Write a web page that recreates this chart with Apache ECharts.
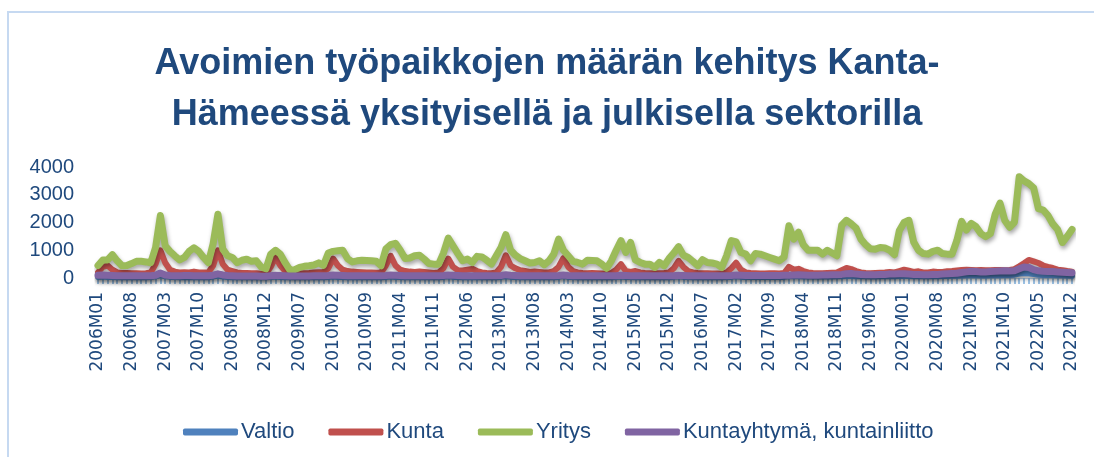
<!DOCTYPE html>
<html>
<head>
<meta charset="utf-8">
<script src="https://cdn.jsdelivr.net/npm/echarts@6/dist/echarts.min.js"></script>
<style>
  html, body { margin: 0; padding: 0; background: #fff; }
  #chart { width: 1094px; height: 457px; }
</style>
</head>
<body>
<div id="chart"></div>
<script>
// kuukaudet 2006M01 - 2022M12
const years = [2006, 2007, 2008, 2009, 2010, 2011, 2012, 2013, 2014, 2015, 2016, 2017, 2018, 2019, 2020, 2021, 2022];
const months = ["01", "02", "03", "04", "05", "06", "07", "08", "09", "10", "11", "12"];

const valtio = [
  40, 50, 40, 35, 30, 30, 30, 30, 30, 30, 30, 35,
  60, 110, 60, 40, 35, 30, 30, 30, 30, 30, 30, 30,
  50, 90, 50, 35, 30, 30, 30, 30, 30, 30, 25, 25,
  35, 50, 40, 30, 30, 30, 30, 30, 30, 30, 30, 30,
  40, 50, 40, 35, 30, 30, 30, 30, 30, 30, 30, 30,
  40, 50, 40, 35, 30, 30, 30, 30, 30, 30, 30, 30,
  40, 60, 40, 35, 30, 30, 30, 30, 30, 30, 30, 30,
  40, 60, 40, 35, 30, 30, 30, 30, 30, 30, 30, 30,
  40, 70, 40, 35, 30, 30, 30, 30, 30, 30, 30, 30,
  40, 50, 40, 35, 30, 30, 30, 30, 30, 30, 30, 30,
  40, 60, 40, 35, 30, 30, 30, 30, 30, 30, 30, 35,
  40, 60, 40, 35, 35, 35, 35, 35, 35, 35, 35, 40,
  60, 70, 60, 55, 50, 50, 50, 50, 55, 55, 60, 60,
  70, 70, 65, 60, 60, 55, 55, 60, 60, 65, 65, 70,
  70, 70, 65, 60, 60, 60, 60, 65, 70, 75, 80, 85,
  90, 100, 100, 95, 90, 90, 95, 100, 100, 105, 110, 120,
  160, 180, 170, 140, 120, 110, 110, 105, 100, 95, 90, 80
];

const kunta = [
  200, 400, 450, 300, 200, 180, 180, 170, 170, 160, 170, 200,
  500, 1000, 550, 300, 230, 200, 210, 200, 230, 200, 200, 200,
  450, 1000, 500, 300, 250, 200, 180, 180, 170, 170, 150, 150,
  400, 750, 450, 250, 200, 170, 160, 170, 180, 200, 210, 220,
  350, 700, 450, 300, 250, 230, 220, 210, 200, 200, 190, 200,
  450, 800, 450, 300, 250, 230, 220, 230, 220, 200, 180, 200,
  350, 700, 400, 280, 270, 300, 330, 250, 200, 180, 170, 200,
  400, 820, 450, 350, 280, 250, 220, 230, 220, 200, 200, 250,
  400, 720, 400, 250, 200, 180, 170, 180, 170, 160, 150, 180,
  300, 500, 250, 220, 250, 200, 180, 170, 160, 170, 180, 200,
  350, 620, 400, 250, 200, 180, 170, 170, 160, 160, 150, 200,
  350, 550, 300, 200, 180, 170, 160, 160, 170, 170, 160, 180,
  400, 300, 330, 250, 200, 180, 170, 170, 180, 190, 200, 280,
  360, 320, 250, 200, 180, 170, 180, 190, 200, 220, 200, 250,
  300, 260, 220, 240, 200, 200, 230, 220, 220, 240, 250, 270,
  290, 300, 290, 280, 290, 280, 280, 290, 290, 280, 290, 320,
  420, 530, 650, 600, 540, 450, 400, 360, 300, 280, 250, 230
];

const yritys = [
  450, 650, 650, 840, 620, 440, 450, 520, 600, 600, 580, 550,
  1100, 2250, 1160, 960, 800, 650, 740, 960, 1090, 960, 740, 550,
  1240, 2300, 1040, 800, 740, 550, 640, 680, 600, 620, 400, 330,
  860, 1000, 860, 550, 280, 300, 380, 420, 440, 470, 545, 460,
  900, 960, 980, 1000, 700, 580, 620, 640, 630, 620, 600, 440,
  1050, 1200, 1250, 1000, 700, 720, 800, 820, 680, 520, 500, 500,
  900, 1440, 1160, 880, 620, 680, 560, 780, 760, 640, 500, 800,
  1100, 1560, 1000, 820, 700, 620, 540, 560, 620, 480, 620, 860,
  1400, 1000, 800, 600, 560, 500, 640, 630, 620, 500, 350, 620,
  1000, 1350, 920, 1280, 650, 560, 500, 500, 380, 560, 440, 700,
  900, 1130, 820, 740, 600, 440, 660, 560, 540, 500, 380, 800,
  1350, 1300, 920, 860, 620, 880, 860, 800, 740, 680, 620, 760,
  1880, 1400, 1650, 1200, 1000, 1000, 1000, 860, 1000, 900, 800, 1900,
  2080, 1950, 1800, 1400, 1200, 1050, 1040, 1100, 1080, 1000, 840, 1700,
  2000, 2080, 1300, 1000, 880, 860, 960, 1000, 880, 860, 860, 1350,
  2040, 1730, 1970, 1850, 1600, 1490, 1600, 2300, 2700, 2070, 1830, 2010,
  3650, 3500, 3400, 3250, 2500, 2450, 2250, 1950, 1750, 1280, 1500, 1750
];

const kuntayhtyma = [
  100, 110, 100, 90, 80, 80, 80, 80, 80, 80, 80, 80,
  100, 180, 110, 90, 80, 80, 90, 90, 80, 80, 80, 80,
  100, 150, 110, 90, 80, 70, 70, 70, 70, 70, 60, 60,
  80, 100, 90, 80, 70, 70, 70, 70, 70, 80, 80, 80,
  90, 110, 100, 90, 80, 80, 80, 80, 80, 80, 80, 80,
  90, 110, 100, 90, 80, 80, 80, 80, 80, 80, 80, 80,
  90, 110, 100, 90, 80, 80, 80, 80, 80, 80, 80, 80,
  90, 120, 100, 90, 80, 80, 80, 80, 80, 80, 80, 80,
  90, 110, 90, 80, 80, 80, 80, 80, 80, 80, 80, 80,
  80, 100, 90, 80, 80, 80, 80, 80, 80, 80, 80, 80,
  80, 100, 90, 80, 80, 80, 80, 80, 80, 80, 80, 80,
  90, 110, 100, 90, 90, 90, 90, 90, 90, 90, 90, 100,
  100, 110, 120, 110, 100, 100, 100, 110, 110, 120, 120, 130,
  150, 160, 140, 130, 120, 120, 120, 130, 130, 140, 140, 150,
  150, 140, 130, 130, 120, 120, 130, 130, 140, 150, 160, 170,
  200, 220, 240, 230, 220, 220, 230, 240, 250, 260, 250, 260,
  330, 400, 380, 300, 260, 240, 230, 230, 220, 210, 200, 190
];

const yTicks = [0, 1000, 2000, 3000, 4000];

let categories = [];
years.forEach((y) => {
  months.forEach((m) => {
    categories.push(y + "M" + m);
  });
});

const textColor = "#1f497d";
const shadow = {
  shadowColor: "rgba(0,0,0,0.35)",
  shadowBlur: 4,
  shadowOffsetX: 1,
  shadowOffsetY: 3,
};

function makeSeries(name, data, color, width) {
  return {
    name: name,
    type: "line",
    data: data,
    symbol: "none",
    smooth: false,
    clip: false,
    color: color,
    lineStyle: Object.assign({ width: width, color: color, join: "round", cap: "round" }, shadow),
  };
}

let myChart = echarts.init(document.getElementById("chart"));
let option = {
  animation: false,
  backgroundColor: "#fff",
  textStyle: { fontFamily: "Liberation Sans" },
  graphic: [
    {
      type: "rect",
      shape: { x: 8, y: 12, width: 1100, height: 460 },
      style: { fill: "none", stroke: "#c6d9f1", lineWidth: 2 },
      silent: true,
    },
  ],
  title: {
    text: "Avoimien työpaikkojen määrän kehitys Kanta-\nHämeessä yksityisellä ja julkisella sektorilla",
    left: "center",
    top: 34,
    textStyle: {
      fontFamily: "Liberation Sans",
      fontSize: 36,
      fontWeight: "bold",
      lineHeight: 51,
      color: textColor,
    },
  },
  legend: {
    left: 178,
    top: 416,
    itemWidth: 55,
    itemHeight: 7,
    itemGap: 34,
    icon: "roundRect",
    textStyle: { fontSize: 22, color: textColor, fontFamily: "Liberation Sans", padding: [0, 0, 0, -2] },
    data: ["Valtio", "Kunta", "Yritys", "Kuntayhtymä, kuntainliitto"],
  },
  grid: {
    left: 98,
    right: 22,
    top: 167,
    bottom: 179,
    containLabel: false,
  },
  xAxis: {
    type: "category",
    boundaryGap: false,
    data: categories,
    axisLine: { show: true, lineStyle: { color: "#c6d9f1", width: 1 } },
    axisTick: { show: true, interval: 0, length: 6, lineStyle: { color: "#9dc3e6", width: 2 } },
    axisLabel: {
      interval: 6,
      rotate: 90,
      fontSize: 17,
      color: textColor,
      fontFamily: "DejaVu Sans",
      margin: 14,
    },
    splitLine: { show: false },
  },
  yAxis: {
    type: "value",
    min: yTicks[0],
    max: yTicks[yTicks.length - 1],
    interval: 1000,
    axisLine: { show: false },
    axisTick: { show: false },
    splitLine: { show: false },
    axisLabel: { fontSize: 20, color: textColor, margin: 24, formatter: (v) => String(v) },
  },
  series: [
    makeSeries("Valtio", valtio, "#4f81bd", 6),
    makeSeries("Kunta", kunta, "#c0504d", 6),
    makeSeries("Yritys", yritys, "#9bbb59", 7),
    makeSeries("Kuntayhtymä, kuntainliitto", kuntayhtyma, "#8064a2", 7),
  ],
};
myChart.setOption(option);
</script>
</body>
</html>
